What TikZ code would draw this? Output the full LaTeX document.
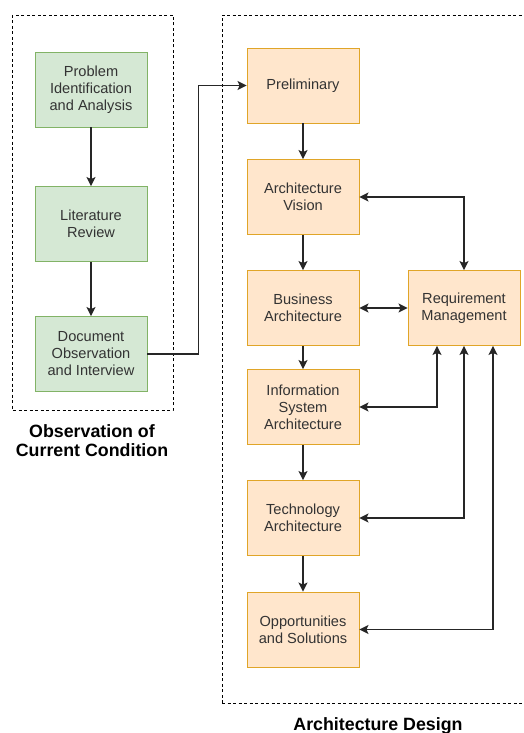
\documentclass[tikz,border=0pt]{standalone}
\usepackage{fontspec}
\setmainfont{Liberation Sans}
\usetikzlibrary{arrows.meta}

\definecolor{greenfill}{HTML}{D5E8D4}
\definecolor{greenline}{HTML}{82B366}
\definecolor{orangefill}{HTML}{FFE6CC}
\definecolor{orangeline}{HTML}{E0A528}
\definecolor{ink}{HTML}{333333}

\tikzset{
  stage/.style={minimum width=112pt, minimum height=75pt, align=center,
    line width=0.9pt, text=ink, font=\fontsize{14.6}{17}\selectfont, inner sep=2pt},
  greenbox/.style={stage, draw=greenline, fill=greenfill},
  orangebox/.style={stage, draw=orangeline, fill=orangefill},
  group/.style={draw=black, dashed, dash pattern=on 3pt off 2.5pt, line width=0.8pt},
  grouplabel/.style={align=center, font=\fontsize{17.8}{19.5}\selectfont\bfseries, text=black},
  tip/.tip={Stealth[length=9pt,width=9pt,inset=2pt]},
  flow/.style={draw=black!85, line width=1.2pt, -tip},
  biflow/.style={draw=black!85, line width=1.2pt, tip-tip}
}

\begin{document}
\begin{tikzpicture}[x=1pt, y=-1pt]
  \useasboundingbox (0,0) rectangle (524,733);

  % dashed group frames
  \draw[group] (12,15) rectangle (173,410);
  \draw[group] (222,703) -- (222,15) -- (530,15);
  \draw[group] (222,703) -- (530,703);

  % observation stages
  \node[greenbox] (prob) at (91,89.5) {Problem\\Identification\\and Analysis};
  \node[greenbox] (lit)  at (91,224)  {Literature\\Review};
  \node[greenbox] (doc)  at (91,354)  {Document\\Observation\\and Interview};

  % architecture stages
  \node[orangebox] (pre) at (303,85.5) {Preliminary};
  \node[orangebox] (av)  at (303,197)  {Architecture\\Vision};
  \node[orangebox] (ba)  at (303,308)  {Business\\Architecture};
  \node[orangebox] (isa) at (303,407)  {Information\\System\\Architecture};
  \node[orangebox] (ta)  at (303,518)  {Technology\\Architecture};
  \node[orangebox] (os)  at (303,629.5){Opportunities\\and Solutions};
  \node[orangebox] (rm)  at (464,308)  {Requirement\\Management};

  % group captions
  \node[grouplabel] (obslbl) at (92,440.5) {Observation of\\Current Condition};
  \node[grouplabel, anchor=base] (archlbl) at (378,730) {Architecture Design};

  % sequential flow
  \draw[flow] (prob) -- (lit);
  \draw[flow] (lit) -- (doc);
  \draw[flow] (doc.east) -- ++(51,0) |- (pre.west);
  \draw[flow] (pre) -- (av);
  \draw[flow] (av) -- (ba);
  \draw[flow] (ba) -- (isa);
  \draw[flow] (isa) -- (ta);
  \draw[flow] (ta) -- (os);

  % requirement management links
  \draw[biflow] (av.east) -| (rm.north);
  \draw[biflow] (ba.east) -- (rm.west);
  \draw[biflow] (isa.east) -| ([xshift=-27pt]rm.south);
  \draw[biflow] (ta.east) -| (rm.south);
  \draw[biflow] (os.east) -| ([xshift=29pt]rm.south);
\end{tikzpicture}
\end{document}
